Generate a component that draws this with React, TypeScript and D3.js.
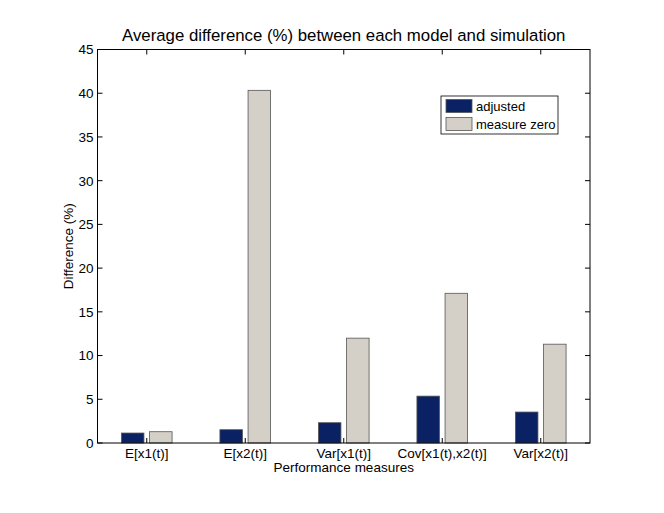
import * as d3 from "d3";
import React, { useEffect, useRef } from "react";

// chart data
const categories = ["E[x1(t)]", "E[x2(t)]", "Var[x1(t)]", "Cov[x1(t),x2(t)]", "Var[x2(t)]"];
const seriesNames = ["adjusted", "measure zero"];
const adjusted = [1.14, 1.52, 2.32, 5.36, 3.54];
const measureZero = [1.29, 40.33, 11.99, 17.12, 11.3];
const yTicks = [0, 5, 10, 15, 20, 25, 30, 35, 40, 45];

const colors = ["#0a2164", "#d4d0c8"];

export default function App() {
  const svgRef = useRef(null);
  const width = 664;
  const height = 513;
  const margin = { top: 49.5, right: 74, bottom: 70, left: 97.5 };

  useEffect(() => {
    const svgEl = d3.select(svgRef.current);
    svgEl.selectAll("*").remove();

    const plotW = width - margin.left - margin.right;
    const plotH = height - margin.top - margin.bottom;
    const font = "Liberation Sans, Arial, sans-serif";

    // x in MATLAB-like units: groups at 1..5, limits [0.5, 5.5]
    const x = d3.scaleLinear().domain([0.5, categories.length + 0.5]).range([0, plotW]);
    const y = d3.scaleLinear().domain([0, 45]).range([plotH, 0]);

    const g = svgEl.append("g").attr("transform", `translate(${margin.left},${margin.top})`);

    g.append("rect")
      .attr("width", plotW)
      .attr("height", plotH)
      .attr("fill", "#fff");

    const series = [adjusted, measureZero];
    const slot = 0.2857;
    const barW = slot * 0.8;
    series.forEach((vals, si) => {
      const offset = (si - 0.5) * slot;
      g.append("g")
        .selectAll("rect")
        .data(vals)
        .join("rect")
        .attr("x", (d, i) => x(i + 1 + offset - barW / 2))
        .attr("y", (d) => y(d))
        .attr("width", x(barW) - x(0))
        .attr("height", (d) => y(0) - y(d))
        .attr("fill", colors[si])
        .attr("stroke", "#555")
        .attr("stroke-width", 0.8);
    });

    // box
    g.append("rect")
      .attr("width", plotW)
      .attr("height", plotH)
      .attr("fill", "none")
      .attr("stroke", "#000")
      .attr("stroke-width", 1);

    const tickLen = 5;
    // y ticks left & right (inward)
    yTicks.forEach((t) => {
      g.append("line")
        .attr("x1", 0).attr("x2", tickLen)
        .attr("y1", y(t)).attr("y2", y(t))
        .attr("stroke", "#000");
      g.append("line")
        .attr("x1", plotW).attr("x2", plotW - tickLen)
        .attr("y1", y(t)).attr("y2", y(t))
        .attr("stroke", "#000");
      g.append("text")
        .attr("x", -4)
        .attr("y", y(t))
        .attr("dy", "0.36em")
        .attr("text-anchor", "end")
        .style("font-family", font)
        .style("font-size", "13.5px")
        .text(t);
    });

    // x ticks bottom & top (inward)
    categories.forEach((c, i) => {
      const cx = x(i + 1);
      g.append("line")
        .attr("x1", cx).attr("x2", cx)
        .attr("y1", plotH).attr("y2", plotH - tickLen)
        .attr("stroke", "#000");
      g.append("line")
        .attr("x1", cx).attr("x2", cx)
        .attr("y1", 0).attr("y2", tickLen)
        .attr("stroke", "#000");
      g.append("text")
        .attr("x", cx)
        .attr("y", plotH + 15)
        .attr("text-anchor", "middle")
        .style("font-family", font)
        .style("font-size", "13.5px")
        .text(c);
    });

    // title
    svgEl.append("text")
      .attr("x", margin.left + plotW / 2)
      .attr("y", 41)
      .attr("text-anchor", "middle")
      .style("font-family", font)
      .style("font-size", "16.8px")
      .text("Average difference (%) between each model and simulation");

    // axis labels
    svgEl.append("text")
      .attr("x", margin.left + plotW / 2)
      .attr("y", margin.top + plotH + 29)
      .attr("text-anchor", "middle")
      .style("font-family", font)
      .style("font-size", "13.5px")
      .text("Performance measures");

    svgEl.append("text")
      .attr("transform", `translate(${73},${margin.top + plotH / 2}) rotate(-90)`)
      .attr("text-anchor", "middle")
      .style("font-family", font)
      .style("font-size", "13.5px")
      .text("Difference (%)");

    // legend
    const lg = svgEl.append("g").attr("transform", "translate(441,96)");
    lg.append("rect")
      .attr("width", 117)
      .attr("height", 38)
      .attr("fill", "#fff")
      .attr("stroke", "#000")
      .attr("stroke-width", 0.8);
    seriesNames.forEach((s, i) => {
      lg.append("rect")
        .attr("x", 5)
        .attr("y", 3.5 + i * 18)
        .attr("width", 26)
        .attr("height", 13)
        .attr("fill", colors[i])
        .attr("stroke", "#555")
        .attr("stroke-width", 0.8);
      lg.append("text")
        .attr("x", 35)
        .attr("y", 10 + i * 18)
        .attr("dy", "0.36em")
        .style("font-family", font)
        .style("font-size", "13px")
        .text(s);
    });
  });

  return (
    <div style={{ position: "absolute", left: 0, top: 0 }}>
      <svg width={width} height={height} ref={svgRef}></svg>
    </div>
  );
}
